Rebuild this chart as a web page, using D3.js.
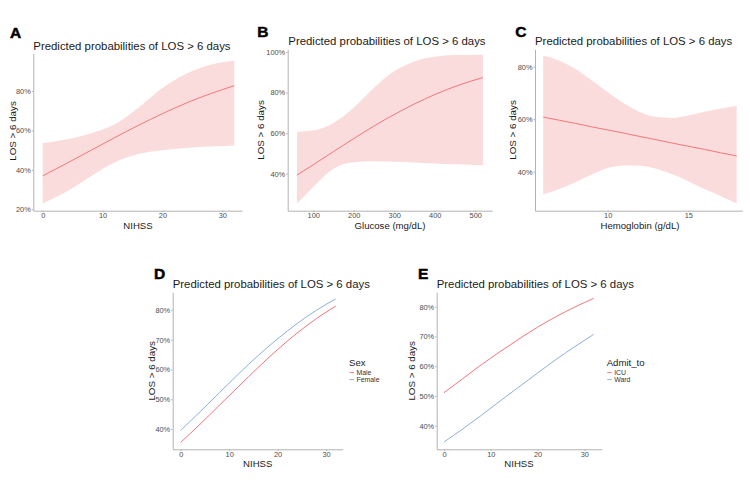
<!DOCTYPE html>
<html><head><meta charset="utf-8">
<script src="https://cdn.jsdelivr.net/npm/d3@7"></script>
<style>html,body{margin:0;padding:0;background:#fff}svg{display:block}</style>
</head><body><svg id="c" width="750" height="488"></svg>
<script>
// ---------- data ----------
const titleText = "Predicted probabilities of LOS > 6 days";
const yTitle = "LOS > 6 days";
const nihssGrid = [0,4,8,12,16,20,24,28,32];
const aFit  = [37.0,43.3,49.8,56.3,62.6,68.5,73.9,78.6,82.7];
const aLow  = [23.0,29.0,36.6,43.7,48.0,50.0,51.1,51.8,52.3];
const aHigh = [53.5,55.5,58.5,63.0,71.5,81.5,88.7,93.3,95.4];
const glucoseGrid = [60,100,150,200,250,300,350,400,450,519];
const bFit  = [39.3,44.4,50.9,57.3,63.5,69.2,74.4,79.0,83.0,87.4];
const bLow  = [25.3,33.5,42.5,45.6,46.1,45.9,45.5,45.0,44.6,44.2];
const bHigh = [60.7,61.3,65.0,72.5,82.4,90.5,95.3,97.6,98.5,98.7];
const hbGrid = [6,7,8,9,10,11,12,13,14,15,16,17,18];
const cFit  = [60.8,59.6,58.4,57.1,55.9,54.7,53.4,52.2,50.9,49.7,48.5,47.2,46.0];
const cLow  = [31.4,33.4,36.0,38.9,41.4,42.4,42.3,41.1,39.1,36.4,33.4,30.7,27.9];
const cHigh = [84.3,82.3,79.1,74.8,70.3,66.1,62.7,60.8,60.5,61.4,62.8,64.0,65.1];
const dMale   = [35.5,41.6,48.0,54.4,60.7,66.7,72.2,77.1,81.3];
const dFemale = [39.5,45.8,52.2,58.6,64.7,70.3,75.4,79.9,83.7];
const eICU  = [51.1,55.8,60.5,64.9,69.1,73.1,76.7,79.9,82.8];
const eWard = [34.5,38.9,43.5,48.3,53.0,57.7,62.3,66.6,70.7];
const sexLevels = ["Male","Female"];
const admitLevels = ["ICU","Ward"];
const aXTicks = [0,10,20,30], aYTicks = [20,40,60,80];
const bXTicks = [100,200,300,400,500], bYTicks = [40,60,80,100];
const cXTicks = [10,15], cYTicks = [40,60,80];
const dXTicks = [0,10,20,30], dYTicks = [40,50,60,70,80];
const eXTicks = [0,10,20,30], eYTicks = [40,50,60,70,80];

// ---------- styles ----------
const RED = "#F4757A", BLUE = "#8CB0DC", BAND = "#FBDCDD";
const FONT = "'Liberation Sans', Arial, Helvetica, sans-serif";
const svg = d3.select("#c");

function panel(cfg){
  const g = svg.append("g");
  const xs0 = d3.scaleLinear().domain(cfg.xCal[0]).range(cfg.xCal[1]);
  const ys0 = d3.scaleLinear().domain(cfg.yCal[0]).range(cfg.yCal[1]);
  const x = d3.scaleLinear().domain([xs0.invert(cfg.box[0]), xs0.invert(cfg.box[1])]).range([cfg.box[0], cfg.box[1]]);
  const y = d3.scaleLinear().domain([ys0.invert(cfg.box[3]), ys0.invert(cfg.box[2])]).range([cfg.box[3], cfg.box[2]]);

  if (cfg.band){
    const area = d3.area().curve(d3.curveMonotoneX)
      .x((d,i)=>x(cfg.xs[i])).y0((d,i)=>y(cfg.band[0][i])).y1((d,i)=>y(cfg.band[1][i]));
    g.append("path").datum(cfg.xs).attr("d", area).attr("fill", BAND);
  }
  const line = d3.line().curve(d3.curveMonotoneX);
  cfg.lines.forEach(l=>{
    g.append("path").attr("d", line(cfg.xs.map((v,i)=>[x(v), y(l.v[i])])))
      .attr("fill","none").attr("stroke", l.c).attr("stroke-width", 1);
  });

  const xa = g.append("g").attr("transform", `translate(0,${cfg.box[3]})`)
    .call(d3.axisBottom(x).tickValues(cfg.xTicks).tickSize(1.5).tickSizeOuter(0).tickPadding(1).tickFormat(d3.format("d")));
  const ya = g.append("g").attr("transform", `translate(${cfg.box[0]},0)`)
    .call(d3.axisLeft(y).tickValues(cfg.yTicks).tickSize(1.5).tickSizeOuter(0).tickPadding(1).tickFormat(d=>d+"%"));
  [xa, ya].forEach(a=>{
    a.select(".domain").attr("stroke","#b3b3b3").attr("stroke-width",1);
    a.selectAll(".tick line").attr("stroke","#b3b3b3");
    a.selectAll("text").attr("fill","#4d4d4d").style("font-family", FONT).style("font-size","7.4px");
  });

  g.append("text").attr("x", cfg.title[0]).attr("y", cfg.title[1]).text(titleText)
    .style("font-family", FONT).style("font-size","11.4px").attr("fill","#1a1a1a");
  g.append("text").attr("x", cfg.letter[0]).attr("y", cfg.letter[1]).text(cfg.tag)
    .style("font-family", FONT).style("font-size","15.5px").style("font-weight","bold")
    .attr("fill","#000").attr("stroke","#000").attr("stroke-width",0.5);
  g.append("text").attr("transform", `translate(${cfg.ytitle[0]},${cfg.ytitle[1]}) rotate(-90)`)
    .attr("text-anchor","middle").attr("dy","0.35em").text(yTitle)
    .style("font-family", FONT).style("font-size","9.8px").attr("fill","#1a1a1a");
  g.append("text").attr("x", cfg.xtitle[0]).attr("y", cfg.xtitle[1]).attr("text-anchor","middle")
    .text(cfg.xlab).style("font-family", FONT).style("font-size","9.6px").attr("fill","#1a1a1a");

  if (cfg.legend){
    const L = cfg.legend;
    const lg = g.append("g");
    lg.append("text").attr("x", L.x).attr("y", L.y).text(L.title)
      .style("font-family", FONT).style("font-size","9.6px").attr("fill","#1a1a1a");
    L.items.forEach((it,i)=>{
      const cy = L.y + 6.6 + i*7.0;
      lg.append("line").attr("x1", L.x+0.5).attr("x2", L.x+5).attr("y1", cy).attr("y2", cy)
        .attr("stroke", it.c).attr("stroke-width", 1);
      lg.append("text").attr("x", L.x+7.5).attr("y", cy).attr("dy","0.35em").text(it.name)
        .style("font-family", FONT).style("font-size","6.9px").attr("fill","#333");
    });
  }
}

panel({tag:"A", xs:nihssGrid, band:[aLow,aHigh], lines:[{v:aFit,c:RED}],
  xCal:[[0,30],[42.7,222.3]], yCal:[[20,80],[209.3,91]], box:[33.3,242,53.3,210.7],
  xTicks:aXTicks, yTicks:aYTicks, title:[33.3,50], letter:[10,38.3], ytitle:[12.7,131], xtitle:[138,229.2], xlab:"NIHSS"});
panel({tag:"B", xs:glucoseGrid, band:[bLow,bHigh], lines:[{v:bFit,c:RED}],
  xCal:[[100,500],[313.2,475.2]], yCal:[[40,100],[173.7,52]], box:[287.7,492.3,49.3,210.7],
  xTicks:bXTicks, yTicks:bYTicks, title:[288.3,45], letter:[257.3,37.3], ytitle:[260.7,130], xtitle:[390,229.2], xlab:"Glucose (mg/dL)"});
panel({tag:"C", xs:hbGrid, band:[cLow,cHigh], lines:[{v:cFit,c:RED}],
  xCal:[[10,15],[607.7,688.3]], yCal:[[40,80],[171.7,66.7]], box:[535,742.3,49.3,210.7],
  xTicks:cXTicks, yTicks:cYTicks, title:[535,45], letter:[515.3,36.7], ytitle:[512.7,130], xtitle:[640,229.2], xlab:"Hemoglobin (g/dL)"});
panel({tag:"D", xs:nihssGrid, lines:[{v:dMale,c:RED},{v:dFemale,c:BLUE}],
  xCal:[[0,30],[180.7,326]], yCal:[[40,80],[429,310]], box:[172.7,342.7,292.3,449.3],
  xTicks:dXTicks, yTicks:dYTicks, title:[172.7,287.5], letter:[154,279.3], ytitle:[151.5,370.8], xtitle:[257.7,466.5], xlab:"NIHSS",
  legend:{x:349, y:366, title:"Sex", items:sexLevels.map((n,i)=>({name:n, c:[RED,BLUE][i]}))}});
panel({tag:"E", xs:nihssGrid, lines:[{v:eICU,c:RED},{v:eWard,c:BLUE}],
  xCal:[[0,30],[444,584.3]], yCal:[[40,80],[425.7,306.7]], box:[436.7,601.7,292.3,449.3],
  xTicks:eXTicks, yTicks:eYTicks, title:[436.7,287.5], letter:[418,279.3], ytitle:[412,370.8], xtitle:[519,466.5], xlab:"NIHSS",
  legend:{x:606.7, y:366, title:"Admit_to", items:admitLevels.map((n,i)=>({name:n, c:[RED,BLUE][i]}))}});
</script></body></html>
